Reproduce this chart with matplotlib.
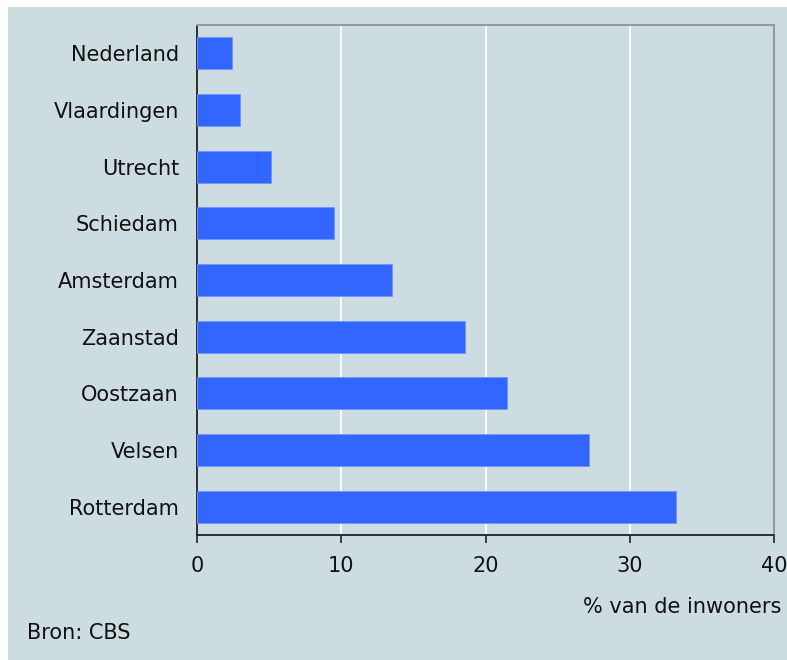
import matplotlib
matplotlib.use('Agg')
import matplotlib.pyplot as plt
from matplotlib.patches import Rectangle

plaatsen = ['Nederland', 'Vlaardingen', 'Utrecht', 'Schiedam', 'Amsterdam',
            'Zaanstad', 'Oostzaan', 'Velsen', 'Rotterdam']
percentages = [2.4, 3.0, 5.1, 9.5, 13.5, 18.6, 21.5, 27.2, 33.2]
xticks = [0, 10, 20, 30, 40]

W, H = 787, 660
bg = '#cddce1'
fs = 15
fig = plt.figure(figsize=(W / 100, H / 100), dpi=100, facecolor='white')
# achtergrond met witte rand links en boven
fig.patches.append(Rectangle((8 / W, 0), 1, 1 - 7 / H, transform=fig.transFigure,
                             facecolor=bg, edgecolor='none', zorder=-5))

ax = fig.add_axes([197 / W, 1 - 535 / H, (774 - 197) / W, (535 - 25) / H])
ax.set_zorder(2)
ax.set_facecolor(bg)

ypos = list(range(len(plaatsen)))
ax.barh(ypos, percentages, height=0.57, color='#3366ff', edgecolor='#6f93ff',
        linewidth=0.6, zorder=3)
ax.set_ylim(len(plaatsen) - 0.5, -0.5)
ax.set_xlim(0, 40)
ax.set_yticks(ypos)
ax.set_yticklabels(plaatsen)
ax.set_xticks(xticks)
ax.set_xticklabels([str(t) for t in xticks])

for t in xticks[1:-1]:
    ax.axvline(t, color='white', linewidth=1.3, zorder=1)

for s in ['top', 'right']:
    ax.spines[s].set_color('#999999')
    ax.spines[s].set_linewidth(1.5)
for s in ['left', 'bottom']:
    ax.spines[s].set_color('#222222')
    ax.spines[s].set_linewidth(1.3)

ax.tick_params(axis='y', length=0, pad=13, labelsize=fs, labelcolor='#111111')
ax.tick_params(axis='x', length=6, width=1.2, color='#222222', pad=9,
               labelsize=fs, labelcolor='#111111')

fig.text(781 / W, 1 - 607 / H, '% van de inwoners', ha='right', va='center',
         fontsize=fs, color='#111111', zorder=5)
fig.text(27 / W, 1 - 633 / H, 'Bron: CBS', ha='left', va='center',
         fontsize=fs, color='#111111', zorder=5)

fig.savefig('out.png', dpi=100, facecolor=fig.get_facecolor())
